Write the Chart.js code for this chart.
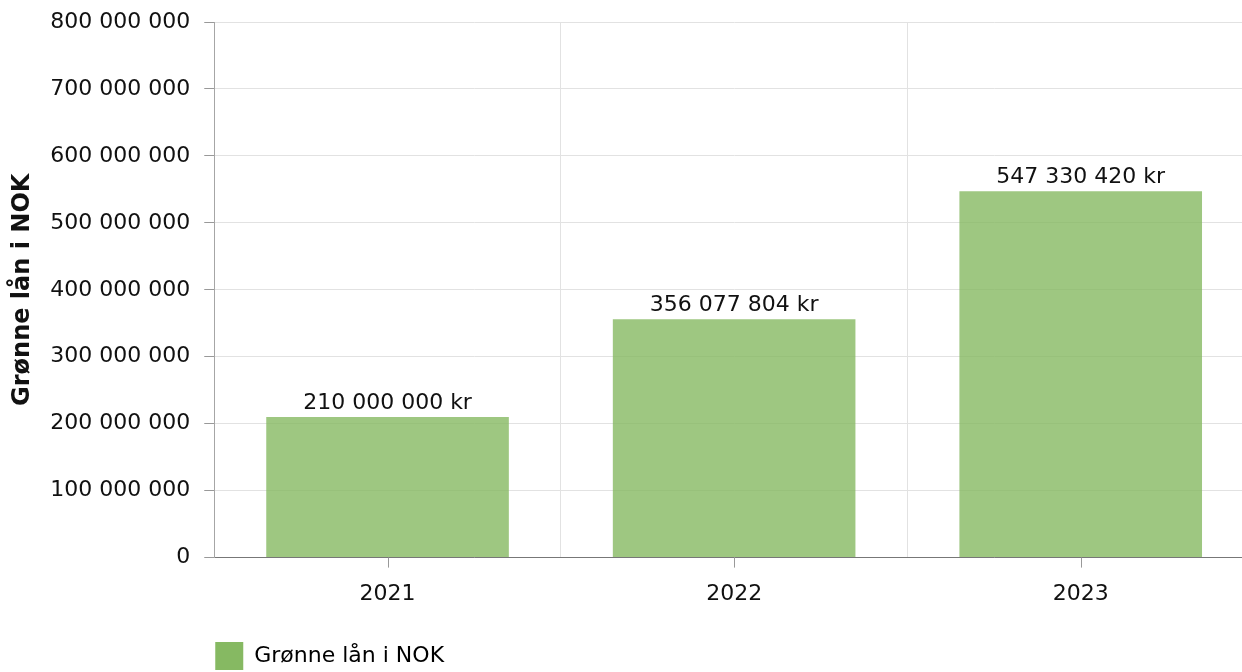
<!DOCTYPE html>
<html>
<head>
<meta charset="utf-8">
<script src="https://cdn.jsdelivr.net/npm/chart.js@4/dist/chart.umd.min.js"></script>
<style>
  html, body { margin: 0; padding: 0; background: #fff; overflow: hidden; }
  #wrap { width: 1242px; height: 672px; overflow: hidden; position: relative; }
  #box { width: 1256px; height: 680px; position: absolute; left: 0; top: 0; }
</style>
</head>
<body>
<div id="wrap"><div id="box"><canvas id="c"></canvas></div></div>
<script>
const categories = ['2021', '2022', '2023'];
const seriesName = 'Grønne lån i NOK';
const values = [210000000, 356077804, 547330420];
const yMin = 0;
const yMax = 800000000;
const yStep = 100000000;
const yTitle = 'Grønne lån i NOK';
const currency = 'kr';

const FONT = 'DejaVu Sans, Verdana, sans-serif';
const FS = 22;
const fmt = v => String(Math.round(v)).replace(/\B(?=(\d{3})+(?!\d))/g, ' ');

const barLabels = {
  id: 'barLabels',
  afterDatasetsDraw(chart) {
    const ctx = chart.ctx;
    const meta = chart.getDatasetMeta(0);
    ctx.save();
    ctx.font = FS + 'px ' + FONT;
    ctx.fillStyle = '#111';
    ctx.textAlign = 'center';
    ctx.textBaseline = 'bottom';
    meta.data.forEach((el, i) => {
      ctx.fillText(fmt(values[i]) + ' ' + currency, el.x, el.y - 3);
    });
    ctx.restore();
  }
};

const xTickMarks = {
  id: 'xTickMarks',
  afterDraw(chart) {
    const ctx = chart.ctx;
    const x = chart.scales.x;
    ctx.save();
    ctx.strokeStyle = '#999';
    ctx.lineWidth = 1;
    categories.forEach((c, i) => {
      const px = Math.round(x.getPixelForValue(i)) + 0.5;
      ctx.beginPath();
      ctx.moveTo(px, x.top);
      ctx.lineTo(px, x.top + 10);
      ctx.stroke();
    });
    ctx.restore();
  }
};

const legendShift = {
  id: 'legendShift',
  afterLayout(chart) {
    const lg = chart.legend;
    if (lg) { lg.left = chart.chartArea.left - 10; }
  }
};

new Chart(document.getElementById('c'), {
  type: 'bar',
  data: {
    labels: categories,
    datasets: [{
      label: seriesName,
      data: values,
      backgroundColor: 'rgba(134,185,98,0.8)',
      borderWidth: 0,
      categoryPercentage: 1,
      barPercentage: 0.7
    }]
  },
  options: {
    responsive: true,
    maintainAspectRatio: false,
    animation: false,
    layout: { padding: { top: 22, left: 5.5, right: 2, bottom: 0 } },
    plugins: {
      legend: {
        position: 'bottom',
        align: 'start',
        labels: {
          boxWidth: 28,
          boxHeight: 28,
          padding: 11,
          color: '#111',
          font: { family: FONT, size: FS },
          generateLabels: (chart) => [{
            text: seriesName,
            fillStyle: 'rgb(134,185,98)',
            strokeStyle: 'rgb(134,185,98)',
            lineWidth: 0,
            datasetIndex: 0
          }]
        }
      },
      tooltip: { enabled: false }
    },
    scales: {
      x: {
        grid: { color: '#e2e2e2', drawTicks: false, offset: true },
        border: { color: '#777', width: 1 },
        ticks: { color: '#111', padding: 23.5, font: { family: FONT, size: FS } }
      },
      y: {
        min: yMin,
        max: yMax,
        afterFit: (s) => { s.paddingTop = 0; s.paddingBottom = 0; },
        grid: { color: '#e2e2e2', tickLength: 10, tickColor: '#999' },
        border: { color: '#a6a6a6', width: 1 },
        ticks: {
          stepSize: yStep,
          color: '#111',
          padding: 14,
          font: { family: FONT, size: FS },
          callback: v => fmt(v)
        },
        title: {
          display: true,
          text: yTitle,
          color: '#111',
          font: { family: FONT, size: 24, weight: 'bold' },
          padding: { top: 3, bottom: -1 }
        }
      }
    }
  },
  plugins: [barLabels, xTickMarks, legendShift]
});
</script>
</body>
</html>
